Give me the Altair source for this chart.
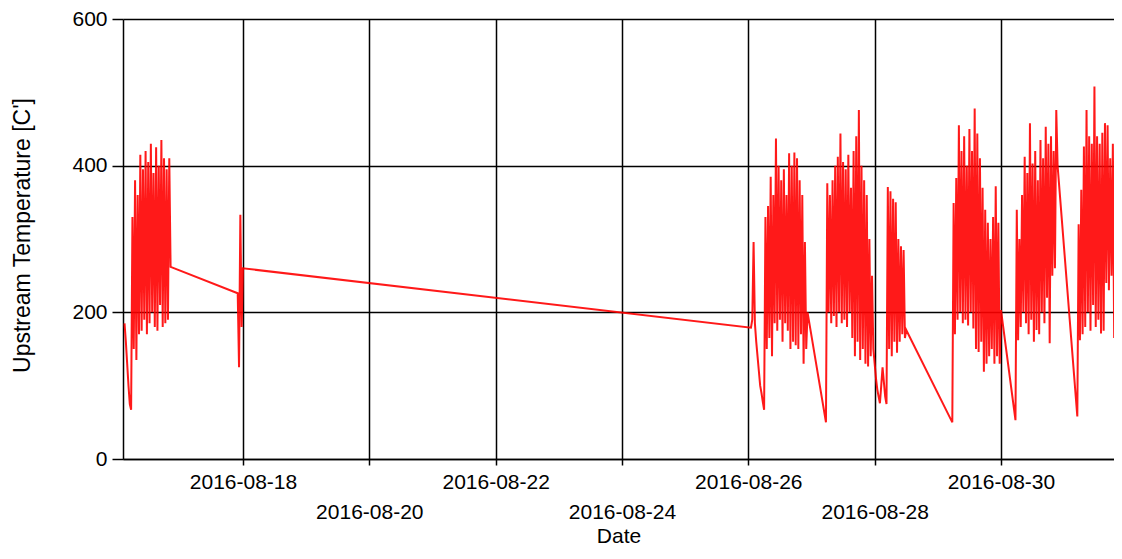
import altair as alt
import pandas as pd

# Sampling interval of the logger (minutes)
STEP_MINUTES = 30

# Start time (UTC) of each recorded block of samples
burst_starts = [
    "2016-08-16T03:00:00",
    "2016-08-17T22:00:00",
    "2016-08-26T01:00:00",
    "2016-08-27T05:30:00",
    "2016-08-29T05:30:00",
    "2016-08-30T05:30:00",
    "2016-08-31T05:00:00",
]

# Upstream temperature readings
temps_0816 = [185, 160, 130, 100, 75, 67, 330, 150, 380, 135, 360, 170, 415, 175, 395, 190,
              420, 170, 405, 185, 430, 200, 390, 180, 425, 175, 400, 210, 435, 180, 410, 185,
              395, 190, 410, 262]
temps_0817 = [226, 125, 333, 180, 260]
temps_0826 = [179, 190, 296, 185, 160, 140, 120, 100, 90, 78, 67, 330, 150, 345, 165, 385,
              140, 360, 185, 437, 175, 400, 190, 380, 160, 395, 185, 360, 175, 417, 150, 400,
              160, 418, 155, 410, 150, 380, 170, 360, 130, 296, 150, 200]
temps_0827 = [50, 376, 200, 360, 185, 380, 195, 400, 180, 412, 200, 444, 185, 405, 190, 395,
              180, 415, 200, 370, 165, 420, 140, 440, 160, 476, 135, 400, 150, 380, 130, 360,
              126, 300, 140, 250, 150, 130, 110, 95, 85, 76, 100, 125, 105, 85, 75, 371,
              150, 365, 140, 355, 160, 350, 145, 300, 160, 290, 170, 285, 165, 176]
temps_0829 = [50, 349, 170, 383, 190, 455, 200, 420, 185, 440, 190, 400, 182, 450, 200, 420,
              178, 478, 150, 444, 146, 410, 160, 370, 119, 340, 130, 322, 140, 300, 150, 330,
              130, 372, 140, 322, 130, 203]
temps_0830 = [53, 340, 162, 300, 180, 360, 200, 412, 185, 390, 170, 458, 190, 403, 160, 420,
              176, 380, 170, 435, 200, 410, 185, 453, 220, 430, 158, 440, 250, 420, 260, 476,
              400]
temps_0831 = [58, 320, 162, 367, 170, 426, 180, 476, 200, 440, 175, 430, 210, 508, 180, 440,
              190, 430, 171, 445, 175, 458, 240, 455, 230, 410, 250, 430, 165, 400, 170, 420,
              162, 420, 170, 400]

bursts = [temps_0816, temps_0817, temps_0826, temps_0827, temps_0829, temps_0830, temps_0831]

# Axis ticks
tick_days = [18, 20, 22, 24, 26, 28, 30]
y_ticks = [0, 200, 400, 600]

frames = []
for start, vals in zip(burst_starts, bursts):
    times = pd.date_range(start, periods=len(vals), freq=f"{STEP_MINUTES}min")
    frames.append(pd.DataFrame({
        "Date": [t.strftime("%Y-%m-%dT%H:%M:%SZ") for t in times],
        "Temp": vals,
    }))
df = pd.concat(frames, ignore_index=True)

FONT = "Liberation Sans"

x_axis = alt.Axis(
    values=[alt.DateTime(year=2016, month=8, date=d, utc=True) for d in tick_days],
    labelExpr=("(utcdate(datum.value) / 2) % 2 == 1 ? utcFormat(datum.value, '%Y-%m-%d') "
               ": ['', utcFormat(datum.value, '%Y-%m-%d')]"),
    labelLineHeight=30, labelOverlap=False, labelFlush=False, labelBound=False,
    labelPadding=6, labelFontSize=21, labelFont=FONT, labelColor="black",
    tickSize=6, tickColor="black", tickWidth=1.5,
    domainColor="black", domainWidth=1.5,
    grid=True, gridColor="black", gridWidth=1.5,
    title="Date", titleFont=FONT, titleFontSize=21, titleFontWeight="normal",
    titleColor="black", titleY=83, titleBaseline="alphabetic",
)

y_axis = alt.Axis(
    values=y_ticks, labelPadding=5, labelFontSize=21, labelFont=FONT, labelColor="black",
    tickSize=11, tickColor="black", tickWidth=1.5,
    domainColor="black", domainWidth=1.5,
    grid=True, gridColor="black", gridWidth=1.5,
    title="Upstream Temperature [C']", titleFont=FONT, titleFontSize=23,
    titleFontWeight="normal", titleColor="black", titleAngle=270,
    titleX=-101, titleY=216, titleAlign="center", titleBaseline="middle",
)

chart = alt.Chart(df).mark_line(
    color="#ff0000", strokeWidth=2.0, strokeOpacity=0.9, clip=True
).encode(
    x=alt.X("Date:T", axis=x_axis, scale=alt.Scale(
        type="utc",
        domain=[alt.DateTime(year=2016, month=8, date=16, hours=2, minutes=25, utc=True),
                alt.DateTime(year=2016, month=8, date=31, hours=18, minutes=56, utc=True)])),
    y=alt.Y("Temp:Q", axis=y_axis, scale=alt.Scale(domain=[0, 600], nice=False)),
    order=alt.Order("Date:T"),
).properties(
    width=991, height=440,
    autosize=alt.AutoSizeParams(type="none"),
    padding={"left": 115, "top": 11, "right": 0, "bottom": 90},
    background="white",
).configure_view(stroke=None)

chart.save("out.html", embed_options={"renderer": "svg", "actions": False})
